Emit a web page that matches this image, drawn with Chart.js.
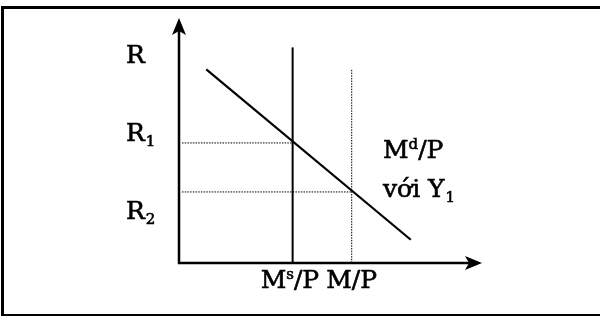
<!DOCTYPE html>
<html>
<head>
<meta charset="utf-8">
<script src="https://cdn.jsdelivr.net/npm/chart.js@4.4.0/dist/chart.umd.min.js"></script>
<style>
  html, body { margin: 0; padding: 0; background: #ffffff; }
  #wrap { width: 600px; height: 317px; }
</style>
</head>
<body>
<div id="wrap"><canvas id="c" width="600" height="317"></canvas></div>
<script>
// ---- data (abstract units) ----
const demandX = [0.9, 7.65];          // M^d/P line endpoints (x)
const demandY = [7.9, 0.95];          // M^d/P line endpoints (y)
const supplyX = 3.75;                 // M^s/P vertical line
const supplyTop = 8.8;
const moneyX = 5.7;                   // M/P dotted vertical
const moneyTop = 7.9;
const rateLevels = [4.9, 2.9];        // R1, R2 dotted horizontals
const rateStartX = 0.1;
const axisMax = [10, 10];             // x max, y max
const yLabels = [['R', ''], ['R', '1'], ['R', '2']];
const xLabels = [['M', 's', '/P'], ['M/P', '', '']];
const curveLabels = [['M', 'd', '/P'], ['với Y', '1', '']];

const INK = '#000000';

const datasets = [
  { label: 'Md/P', data: [{x: demandX[0], y: demandY[0]}, {x: demandX[1], y: demandY[1]}],
    borderColor: INK, borderWidth: 2.2 },
  { label: 'Ms/P', data: [{x: supplyX, y: 0}, {x: supplyX, y: supplyTop}],
    borderColor: INK, borderWidth: 2 },
  { label: 'M/P', data: [{x: moneyX, y: 0}, {x: moneyX, y: moneyTop}],
    borderColor: INK, borderWidth: 1, borderDash: [1.5, 1.2] },
  { label: 'R1', data: [{x: rateStartX, y: rateLevels[0]}, {x: supplyX, y: rateLevels[0]}],
    borderColor: INK, borderWidth: 1, borderDash: [1.5, 1.2] },
  { label: 'R2', data: [{x: rateStartX, y: rateLevels[1]}, {x: moneyX, y: rateLevels[1]}],
    borderColor: INK, borderWidth: 1, borderDash: [1.5, 1.2] }
].map(d => Object.assign({ showLine: true, pointRadius: 0, fill: false, clip: false, tension: 0 }, d));

const FONT = '25px "DejaVu Serif"';
const SUB = '15px "DejaVu Serif"';

function txt(ctx, s, x, y) {
  ctx.fillText(s, x, y);
  ctx.strokeText(s, x, y);
}

function drawScript(ctx, x, y, parts, mode) {
  // parts: [main, small, rest]; mode 'sup' or 'sub'
  ctx.font = FONT;
  txt(ctx, parts[0], x, y);
  let cx = x + ctx.measureText(parts[0]).width;
  if (parts[1]) {
    ctx.font = SUB;
    const dy = mode === 'sup' ? -9 : 5;
    const off = mode === 'sub' ? 1 : 0;
    txt(ctx, parts[1], cx + off, y + dy);
    cx += ctx.measureText(parts[1]).width + off;
  }
  if (parts[2]) {
    ctx.font = FONT;
    txt(ctx, parts[2], cx, y);
    cx += ctx.measureText(parts[2]).width;
  }
  return cx;
}

const decor = {
  id: 'decor',
  afterDatasetsDraw(chart) {
    const ctx = chart.ctx;
    const xs = chart.scales.x, ys = chart.scales.y;
    const x0 = xs.getPixelForValue(0), y0 = ys.getPixelForValue(0);
    const xEnd = xs.getPixelForValue(axisMax[0]), yEnd = ys.getPixelForValue(axisMax[1]);
    ctx.save();
    ctx.strokeStyle = INK; ctx.fillStyle = INK;
    // axes
    ctx.lineWidth = 2.5;
    ctx.beginPath();
    ctx.moveTo(x0, yEnd + 10); ctx.lineTo(x0, y0); ctx.lineTo(xEnd - 10, y0);
    ctx.stroke();
    // arrow heads
    ctx.beginPath();
    ctx.moveTo(x0, yEnd); ctx.lineTo(x0 + 7, yEnd + 17); ctx.lineTo(x0, yEnd + 13); ctx.lineTo(x0 - 7, yEnd + 17);
    ctx.closePath(); ctx.fill();
    ctx.beginPath();
    ctx.moveTo(xEnd, y0); ctx.lineTo(xEnd - 17, y0 - 7); ctx.lineTo(xEnd - 13, y0); ctx.lineTo(xEnd - 17, y0 + 7);
    ctx.closePath(); ctx.fill();
    // frame
    ctx.lineWidth = 3;
    ctx.beginPath(); ctx.moveTo(1, 7.5); ctx.lineTo(600, 7.5); ctx.stroke();
    ctx.beginPath(); ctx.moveTo(2.5, 6); ctx.lineTo(2.5, 316); ctx.stroke();
    ctx.lineWidth = 2;
    ctx.beginPath(); ctx.moveTo(1, 315); ctx.lineTo(600, 315); ctx.stroke();
    // labels
    ctx.lineWidth = 0.6;
    ctx.textBaseline = 'alphabetic'; ctx.textAlign = 'left';
    const lx = x0 - 53;
    drawScript(ctx, lx, 63, yLabels[0], 'sub');
    drawScript(ctx, lx, 141, yLabels[1], 'sub');
    drawScript(ctx, lx, 219, yLabels[2], 'sub');
    let cx = drawScript(ctx, xs.getPixelForValue(supplyX) - 32, 288, xLabels[0], 'sup');
    drawScript(ctx, cx + 7, 288, xLabels[1], 'sup');
    drawScript(ctx, 383, 158, curveLabels[0], 'sup');
    drawScript(ctx, 383, 197, curveLabels[1], 'sub');
    ctx.restore();
  }
};

new Chart(document.getElementById('c'), {
  type: 'scatter',
  data: { datasets },
  options: {
    responsive: false,
    animation: false,
    events: [],
    layout: { padding: { left: 179, right: 118, top: 18, bottom: 54 } },
    plugins: { legend: { display: false }, tooltip: { enabled: false } },
    scales: {
      x: { type: 'linear', min: 0, max: axisMax[0], display: false },
      y: { type: 'linear', min: 0, max: axisMax[1], display: false }
    }
  },
  plugins: [decor]
});
</script>
</body>
</html>
